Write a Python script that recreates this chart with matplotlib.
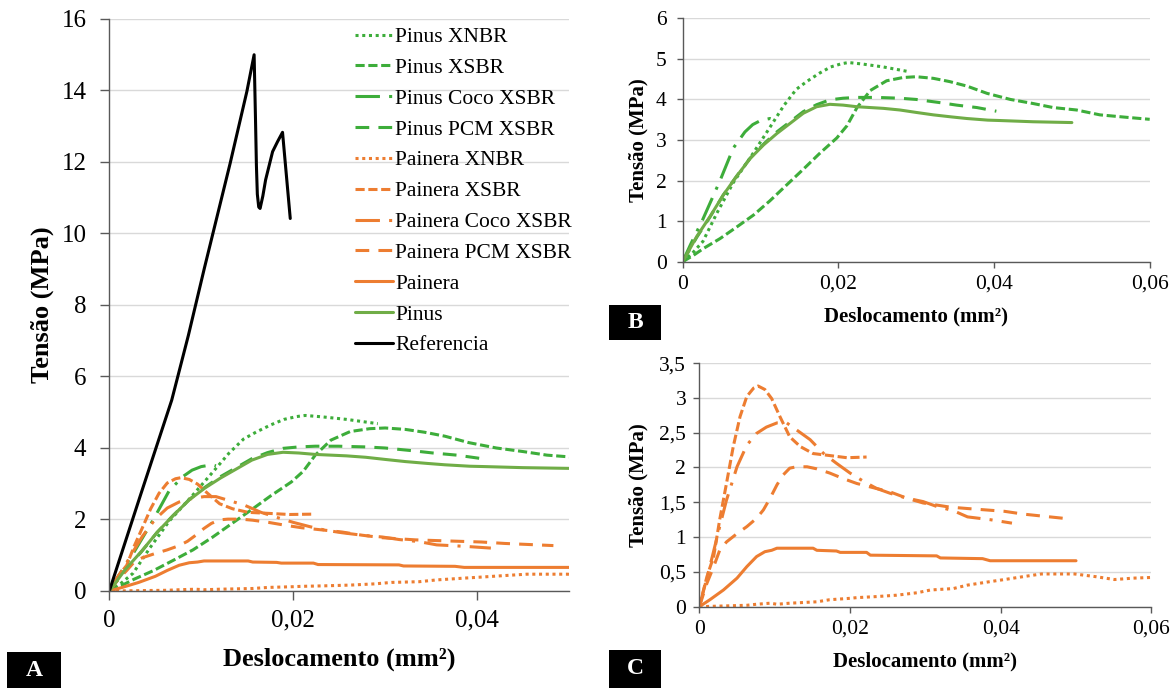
import matplotlib
matplotlib.use("Agg")
import matplotlib.pyplot as plt
from matplotlib.ticker import FuncFormatter, MultipleLocator
from matplotlib.patches import Rectangle

plt.rcParams['font.family'] = ['Liberation Serif', 'DejaVu Serif']

# ---------------- data: displacement (mm²) and stress (MPa) ----------------
pinus_xnbr_x = [0, 0.0012, 0.0026, 0.0044, 0.0065, 0.0088, 0.0110, 0.0130, 0.0146, 0.0160,
                0.0176, 0.0190, 0.0204, 0.0213, 0.0232, 0.0258, 0.0275, 0.0292]
pinus_xnbr_y = [0, 0.20, 0.50, 1.20, 1.95, 2.60, 3.25, 3.85, 4.25, 4.45,
                4.65, 4.80, 4.88, 4.91, 4.87, 4.80, 4.74, 4.68]

pinus_xsbr_x = [0, 0.0014, 0.0027, 0.0048, 0.0069, 0.0091, 0.0112, 0.0134, 0.0155, 0.0176,
                0.0198, 0.0211, 0.0224, 0.0241, 0.0262, 0.0283, 0.0300, 0.0322, 0.0343, 0.0365,
                0.0391, 0.0421, 0.0450, 0.0476, 0.0506, 0.0536, 0.0570, 0.0600]
pinus_xsbr_y = [0, 0.16, 0.33, 0.57, 0.85, 1.15, 1.50, 1.90, 2.28, 2.67,
                3.05, 3.35, 3.80, 4.22, 4.46, 4.54, 4.56, 4.52, 4.44, 4.33,
                4.15, 4.00, 3.90, 3.80, 3.74, 3.62, 3.56, 3.51]

pinus_coco_x = [0, 0.0010, 0.0026, 0.0048, 0.0065, 0.0080, 0.0090, 0.0100, 0.0112, 0.0116]
pinus_coco_y = [0, 0.42, 1.05, 2.00, 2.80, 3.20, 3.38, 3.48, 3.53, 3.50]

pinus_pcm_x = [0, 0.0018, 0.0035, 0.0052, 0.0069, 0.0087, 0.0104, 0.0121, 0.0138, 0.0155,
               0.0172, 0.0189, 0.0206, 0.0224, 0.0249, 0.0279, 0.0300, 0.0331, 0.0352, 0.0378,
               0.0403]
pinus_pcm_y = [0, 0.60, 1.10, 1.64, 2.10, 2.56, 2.90, 3.20, 3.45, 3.70,
               3.87, 3.99, 4.03, 4.05, 4.05, 4.03, 4.00, 3.92, 3.86, 3.80,
               3.71]

pinus_x = [0, 0.0018, 0.0035, 0.0052, 0.0069, 0.0087, 0.0104, 0.0121, 0.0138, 0.0155,
           0.0172, 0.0189, 0.0206, 0.0224, 0.0241, 0.0258, 0.0279, 0.0300, 0.0322, 0.0345,
           0.0365, 0.0392, 0.0408, 0.0450, 0.0500]
pinus_y = [0, 0.62, 1.11, 1.64, 2.10, 2.55, 2.88, 3.16, 3.41, 3.66,
           3.82, 3.88, 3.86, 3.82, 3.80, 3.78, 3.74, 3.68, 3.62, 3.57,
           3.53, 3.49, 3.48, 3.45, 3.43]

painera_xnbr_x = [0, 0.0032, 0.0063, 0.0076, 0.0094, 0.0103, 0.0120, 0.0156, 0.0173, 0.0200,
                  0.0209, 0.0235, 0.0262, 0.0289, 0.0307, 0.0337, 0.0356, 0.0386, 0.0405, 0.0429,
                  0.0454, 0.0498, 0.0527, 0.0551, 0.0576, 0.0600]
painera_xnbr_y = [0, 0.01, 0.02, 0.035, 0.05, 0.035, 0.05, 0.07, 0.10, 0.12,
                  0.13, 0.145, 0.165, 0.20, 0.24, 0.26, 0.31, 0.36, 0.39, 0.43,
                  0.47, 0.47, 0.43, 0.39, 0.41, 0.42]

painera_xsbr_x = [0, 0.0010, 0.0019, 0.0027, 0.0036, 0.0045, 0.0054, 0.0063, 0.0072, 0.0078,
                  0.0087, 0.0096, 0.0107, 0.0120, 0.0134, 0.0151, 0.0174, 0.0196, 0.0222]
painera_xsbr_y = [0, 0.43, 0.72, 1.25, 1.77, 2.30, 2.73, 3.02, 3.14, 3.17,
                  3.12, 2.99, 2.73, 2.44, 2.30, 2.20, 2.17, 2.14, 2.15]

painera_coco_x = [0, 0.0014, 0.0027, 0.0036, 0.0050, 0.0063, 0.0076, 0.0089, 0.0103, 0.0116,
                  0.0129, 0.0147, 0.0165, 0.0182, 0.0200, 0.0218, 0.0235, 0.0253, 0.0275, 0.0297,
                  0.0315, 0.0337, 0.0356, 0.0386, 0.0415]
painera_coco_y = [0, 0.58, 1.15, 1.53, 2.01, 2.32, 2.49, 2.58, 2.64, 2.64,
                  2.54, 2.40, 2.20, 2.06, 1.92, 1.80, 1.70, 1.63, 1.56, 1.51,
                  1.44, 1.38, 1.29, 1.25, 1.20]

painera_pcm_x = [0, 0.0010, 0.0019, 0.0027, 0.0036, 0.0050, 0.0063, 0.0076, 0.0085, 0.0094,
                 0.0103, 0.0111, 0.0120, 0.0129, 0.0143, 0.0156, 0.0173, 0.0191, 0.0209, 0.0227,
                 0.0253, 0.0275, 0.0297, 0.0333, 0.0356, 0.0405, 0.0430, 0.0483]
painera_pcm_y = [0, 0.335, 0.575, 0.81, 0.93, 1.05, 1.15, 1.27, 1.39, 1.56,
                 1.75, 1.89, 1.99, 2.01, 2.01, 1.98, 1.92, 1.84, 1.77, 1.72,
                 1.65, 1.56, 1.49, 1.43, 1.41, 1.37, 1.33, 1.27]

painera_x = [0, 0.0014, 0.0032, 0.0050, 0.0063, 0.0076, 0.0087, 0.0096, 0.0103, 0.0151,
             0.0156, 0.0182, 0.0187, 0.0222, 0.0227, 0.0315, 0.0320, 0.0376, 0.0386, 0.0500]
painera_y = [0, 0.10, 0.24, 0.41, 0.575, 0.72, 0.79, 0.81, 0.84, 0.84,
             0.81, 0.80, 0.78, 0.78, 0.74, 0.73, 0.70, 0.69, 0.66, 0.66]

referencia_x = [0, 0.00334, 0.00679, 0.0086, 0.01034, 0.01314, 0.01496, 0.01575, 0.0159, 0.0160,
                0.0161, 0.01625, 0.0164, 0.0167, 0.0170, 0.01776, 0.0183, 0.01884, 0.01968]
referencia_y = [0, 2.64, 5.34, 7.15, 9.03, 11.96, 13.97, 15.00, 13.2, 11.9,
                11.1, 10.74, 10.70, 11.05, 11.50, 12.29, 12.57, 12.83, 10.42]

# ---------------- styles ----------------
GREEN = "#3DAD3A"
GREEN_SOLID = "#70AD47"
ORANGE = "#ED7D31"
DOT = (0, (1, 1.2))
SHORT_DASH = (0, (3, 1.2))
DASH_DOT = (0, (8, 3, 1, 3))
LONG_DASH = (0, (4.5, 3))

series = [
    ("Pinus XNBR", pinus_xnbr_x, pinus_xnbr_y, GREEN, DOT, "pinus"),
    ("Pinus XSBR", pinus_xsbr_x, pinus_xsbr_y, GREEN, SHORT_DASH, "pinus"),
    ("Pinus Coco XSBR", pinus_coco_x, pinus_coco_y, GREEN, DASH_DOT, "pinus"),
    ("Pinus PCM XSBR", pinus_pcm_x, pinus_pcm_y, GREEN, LONG_DASH, "pinus"),
    ("Painera XNBR", painera_xnbr_x, painera_xnbr_y, ORANGE, DOT, "painera"),
    ("Painera XSBR", painera_xsbr_x, painera_xsbr_y, ORANGE, SHORT_DASH, "painera"),
    ("Painera Coco XSBR", painera_coco_x, painera_coco_y, ORANGE, DASH_DOT, "painera"),
    ("Painera PCM XSBR", painera_pcm_x, painera_pcm_y, ORANGE, LONG_DASH, "painera"),
    ("Painera", painera_x, painera_y, ORANGE, "-", "painera"),
    ("Pinus", pinus_x, pinus_y, GREEN_SOLID, "-", "pinus"),
    ("Referencia", referencia_x, referencia_y, "black", "-", "ref"),
]

LW = 2.2
AXIS_COLOR = "#595959"
GRID_COLOR = "#D9D9D9"


def comma_fmt(v, pos):
    return f"{v:g}".replace(".", ",")


def style_axes(ax, tick_size, ticklen, xpad, ypad):
    for s in ("top", "right"):
        ax.spines[s].set_visible(False)
    for s in ("left", "bottom"):
        ax.spines[s].set_color(AXIS_COLOR)
        ax.spines[s].set_linewidth(1.0)
    ax.yaxis.grid(True, color=GRID_COLOR, linewidth=1.0)
    ax.set_axisbelow(True)
    ax.tick_params(axis="both", direction="out", length=ticklen, width=1.0,
                   color=AXIS_COLOR, labelsize=tick_size, labelcolor="black")
    ax.tick_params(axis="x", pad=xpad)
    ax.tick_params(axis="y", pad=ypad)
    ax.xaxis.set_major_formatter(FuncFormatter(comma_fmt))
    ax.yaxis.set_major_formatter(FuncFormatter(comma_fmt))


def draw(ax, groups):
    for label, xs, ys, color, ls, grp in series:
        if grp in groups:
            ax.plot(xs, ys, color=color, linestyle=ls, linewidth=LW,
                    dash_capstyle="butt", solid_capstyle="round",
                    solid_joinstyle="round", label=label)


fig = plt.figure(figsize=(11.74, 6.88), dpi=100)

# ---- panel A: all specimens ----
axA = fig.add_axes([0.0931, 0.1410, 0.3916, 0.8314])
draw(axA, {"pinus", "painera", "ref"})
axA.set_xlim(0, 0.05)
axA.set_ylim(0, 16)
axA.set_xticks([0, 0.02, 0.04])
axA.yaxis.set_major_locator(MultipleLocator(2))
style_axes(axA, 18, 6.5, 7, 10)
axA.set_xlabel("Deslocamento (mm²)", fontsize=19, fontweight="bold")
axA.set_ylabel("Tensão (MPa)", fontsize=19, fontweight="bold")
axA.xaxis.set_label_coords(0.5, -0.119)
axA.xaxis.label.set_verticalalignment("center")
axA.yaxis.set_label_coords(-0.146, 0.5)
axA.yaxis.label.set_verticalalignment("center")
axA.legend(loc="upper left", bbox_to_anchor=(355 / 1174, 1 - 27 / 688),
           bbox_transform=fig.transFigure, frameon=False, fontsize=15.5,
           handlelength=1.76, handletextpad=0.1, labelspacing=0.5,
           borderpad=0, borderaxespad=0)

# ---- panel B: Pinus ----
axB = fig.add_axes([0.5815, 0.6196, 0.3978, 0.3538])
draw(axB, {"pinus"})
axB.set_xlim(0, 0.06)
axB.set_ylim(0, 6)
axB.set_xticks([0, 0.02, 0.04, 0.06])
axB.yaxis.set_major_locator(MultipleLocator(1))
style_axes(axB, 15.5, 4.5, 5, 7)
axB.set_xlabel("Deslocamento (mm²)", fontsize=15, fontweight="bold")
axB.set_ylabel("Tensão (MPa)", fontsize=15, fontweight="bold")
axB.xaxis.set_label_coords(0.5, -0.227)
axB.xaxis.label.set_verticalalignment("center")
axB.yaxis.set_label_coords(-0.0944, 0.5)
axB.yaxis.label.set_verticalalignment("center")

# ---- panel C: Painera ----
axC = fig.add_axes([0.5957, 0.1182, 0.3850, 0.3541])
draw(axC, {"painera"})
axC.set_xlim(0, 0.06)
axC.set_ylim(0, 3.5)
axC.set_xticks([0, 0.02, 0.04, 0.06])
axC.yaxis.set_major_locator(MultipleLocator(0.5))
style_axes(axC, 15.5, 4.5, 5, 5)
axC.set_xlabel("Deslocamento (mm²)", fontsize=15, fontweight="bold")
axC.set_ylabel("Tensão (MPa)", fontsize=15, fontweight="bold")
axC.xaxis.set_label_coords(0.5, -0.226)
axC.xaxis.label.set_verticalalignment("center")
axC.yaxis.set_label_coords(-0.134, 0.5)
axC.yaxis.label.set_verticalalignment("center")

# ---- panel tags ----
for letter, (x0, y0, w, h) in {
    "A": (7, 652, 54, 36),
    "B": (609, 305, 52, 35),
    "C": (609, 650, 52, 38),
}.items():
    fx, fy = x0 / 1174, 1 - (y0 + h) / 688
    fw, fh = w / 1174, h / 688
    fig.patches.append(Rectangle((fx, fy), fw, fh, transform=fig.transFigure,
                                 facecolor="black", edgecolor="none"))
    fig.text(fx + fw / 2, fy + fh / 2, letter, color="white", fontsize=17,
             fontweight="bold", ha="center", va="center")

fig.savefig("out.png", dpi=100)
